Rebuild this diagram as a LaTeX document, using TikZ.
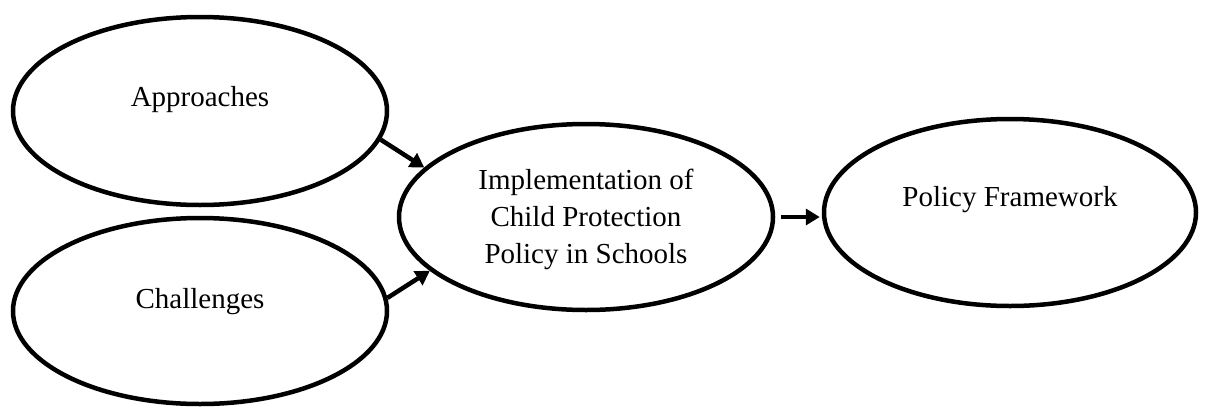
\documentclass[tikz,border=0pt]{standalone}
\usepackage{fontspec}
\setmainfont{Liberation Serif}
\usetikzlibrary{shapes.geometric,arrows.meta}
\tikzset{
  oval/.style={ellipse, draw=black, line width=4.5pt, inner sep=0pt, fill=white},
  lbl/.style={font=\fontsize{29}{37}\selectfont, inner sep=0pt, align=center},
  conn/.style={line width=4.5pt, -{Triangle[length=14pt,width=16pt]}}
}
\begin{document}
\begin{tikzpicture}[x=1pt,y=-1pt]
\useasboundingbox (0,0) rectangle (1206,407);
\node[oval, minimum width=374pt, minimum height=188pt] (appr) at (200,111) {};
\node[oval, minimum width=374pt, minimum height=186pt] (chal) at (200,311) {};
\node[oval, minimum width=374pt, minimum height=186pt] (impl) at (586,217) {};
\node[oval, minimum width=372pt, minimum height=187pt] (pf) at (1010,212.5) {};
\node[lbl, anchor=base] (t1) at (200,106) {Approaches};
\node[lbl, anchor=base] (t2) at (200,308) {Challenges};
\node[lbl, anchor=center] (t3) at (586,219) {Implementation of\\Child Protection\\Policy in Schools};
\node[lbl, anchor=base] (t4) at (1010,206) {Policy Framework};
\draw[conn] (appr.-9) -- (impl.163.7);
\draw[conn] (chal.4) -- (impl.199.4);
\draw[conn, shorten <=6pt, shorten >=2pt] (impl.east) -- (impl.east -| pf.west);
\end{tikzpicture}
\end{document}
